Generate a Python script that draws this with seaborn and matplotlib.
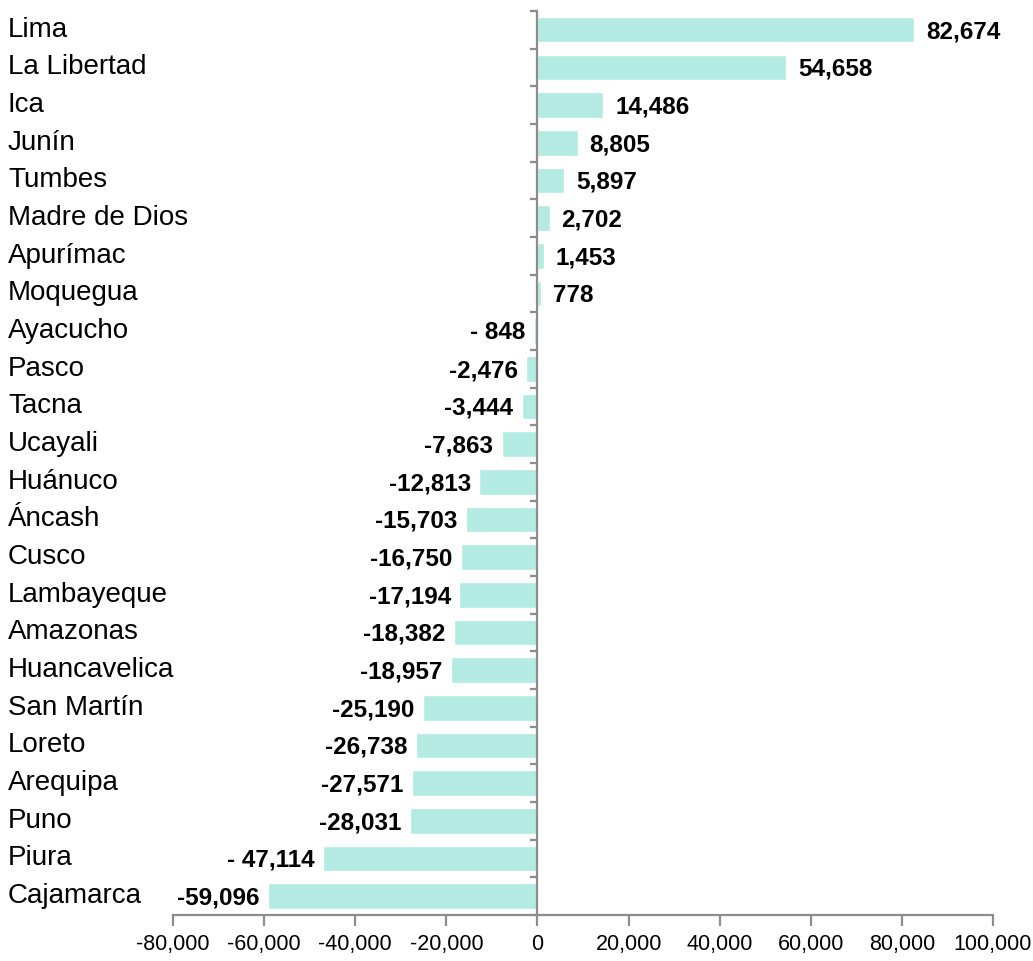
import pandas as pd
import seaborn as sns
import numpy as np
import matplotlib.pyplot as plt
import matplotlib.transforms as mtransforms
from matplotlib.ticker import FuncFormatter

regions = ["Lima", "La Libertad", "Ica", "Junín", "Tumbes", "Madre de Dios",
           "Apurímac", "Moquegua", "Ayacucho", "Pasco", "Tacna", "Ucayali",
           "Huánuco", "Áncash", "Cusco", "Lambayeque", "Amazonas", "Huancavelica",
           "San Martín", "Loreto", "Arequipa", "Puno", "Piura", "Cajamarca"]
values = [82674, 54658, 14486, 8805, 5897, 2702, 1453, 778, -848, -2476, -3444,
          -7863, -12813, -15703, -16750, -17194, -18382, -18957, -25190, -26738,
          -27571, -28031, -47114, -59096]
value_labels = ["82,674", "54,658", "14,486", "8,805", "5,897", "2,702", "1,453",
                "778", "- 848", "-2,476", "-3,444", "-7,863", "-12,813", "-15,703",
                "-16,750", "-17,194", "-18,382", "-18,957", "-25,190", "-26,738",
                "-27,571", "-28,031", "- 47,114", "-59,096"]
x_ticks = [-80000, -60000, -40000, -20000, 0, 20000, 40000, 60000, 80000, 100000]

df = pd.DataFrame({"region": regions, "value": values})

sns.set_theme(style="white")
plt.rcParams["font.family"] = ["Liberation Sans", "DejaVu Sans"]

fig = plt.figure(figsize=(10.33, 9.61), dpi=100)
ax = fig.add_axes([0.1675, 0.048, 0.7938, 0.9407])

sns.barplot(data=df, x="value", y="region", orient="h", color="#b3ebe2",
            saturation=1, width=0.68, ax=ax)

ax.set_xlim(x_ticks[0], x_ticks[-1])
ax.set_ylim(len(regions) - 0.5, -0.5)
ax.set_xlabel("")
ax.set_ylabel("")

grey = "#8c8c8c"
for s in ["top", "right"]:
    ax.spines[s].set_visible(False)
ax.spines["left"].set_position(("data", 0))
for s in ["left", "bottom"]:
    ax.spines[s].set_color(grey)
    ax.spines[s].set_linewidth(1.6)
    ax.spines[s].set_zorder(5)

ax.set_xticks(x_ticks)
ax.xaxis.set_major_formatter(FuncFormatter(lambda v, p: f"{int(v):,}"))
ax.tick_params(axis="x", bottom=True, direction="out", length=8, width=1.6,
               color=grey, labelsize=15.5, labelcolor="black", pad=6)

ax.set_yticks(np.arange(len(regions) + 1) - 0.5)
ax.set_yticklabels([])
ax.tick_params(axis="y", left=True, direction="out", length=5, width=1.6, color=grey)

# category names at the left edge of the figure
trans = mtransforms.blended_transform_factory(fig.transFigure, ax.transData)
for i, name in enumerate(regions):
    ax.text(8 / 1033, i, name, transform=trans, ha="left", va="center",
            fontsize=20, color="black")

# value labels
off = 2600
for i, (v, lab) in enumerate(zip(values, value_labels)):
    if v >= 0:
        ax.text(v + off, i + 0.05, lab, ha="left", va="center", fontsize=17.5,
                fontweight="bold", color="black")
    else:
        ax.text(v - off * 0.7, i + 0.05, lab, ha="right", va="center", fontsize=17.5,
                fontweight="bold", color="black")

fig.savefig("out.png", dpi=100)
